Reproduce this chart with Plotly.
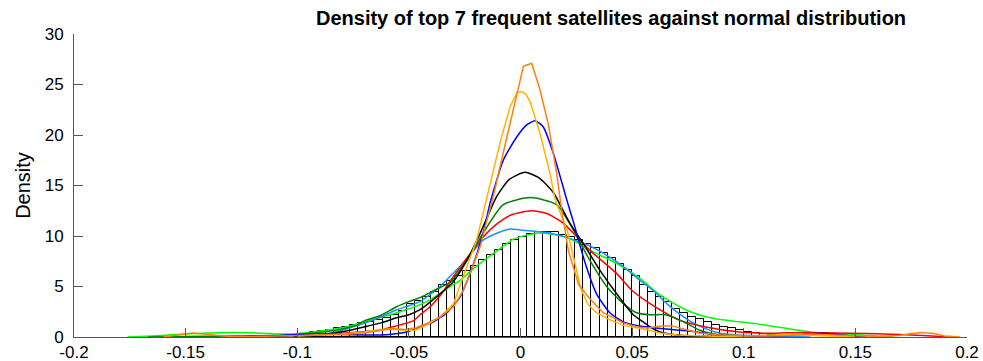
import plotly.graph_objects as go

# Histogram of pooled residuals (density scale)
bin_start = -0.1014
bin_width = 0.0036
hist_density = [
    0.2, 0.3, 0.5, 0.6, 0.7, 0.9, 1.0, 1.2, 1.4, 1.5, 1.7, 1.9, 2.2, 2.6,
    3.3, 3.6, 4.0, 4.5, 5.1, 5.5, 6.0, 6.5, 7.0, 7.6, 8.1,
    8.6, 9.2, 9.6, 9.9, 10.2, 10.4, 10.4, 10.4,
    10.1, 9.9, 9.6, 9.2, 8.8, 8.3, 7.8, 7.2, 6.6, 6.0,
    5.1, 4.5, 4.0, 3.5, 2.8, 2.4, 2.0, 1.8, 1.5, 1.2, 1.0, 0.9, 0.7, 0.5, 0.4, 0.3, 0.2,
]

# Kernel density estimates, one per satellite
sat1_x = [-0.16, -0.153, -0.147, -0.14, -0.13, -0.12, -0.11, -0.10, -0.09, -0.08, -0.07, -0.062,
          -0.057, -0.052, -0.047, -0.042, -0.036, -0.030, -0.0257, -0.022, -0.018, -0.015, -0.0123,
          -0.0085, -0.0047, 0.0013, 0.005, 0.0087, 0.0125, 0.0162, 0.0185, 0.0214, 0.026, 0.031,
          0.037, 0.046, 0.052, 0.057, 0.063, 0.068, 0.073, 0.08, 0.09, 0.10, 0.11, 0.12, 0.13, 0.14,
          0.15, 0.16, 0.17, 0.175, 0.18, 0.185, 0.19, 0.197]
sat1_y = [0.0, 0.2, 0.4, 0.25, 0.05, 0.05, 0.1, 0.2, 0.25, 0.25, 0.4, 0.7,
          0.85, 0.75, 0.9, 1.35, 2.0, 3.0, 4.6, 6.6, 9.0, 11.6, 13.8,
          17.5, 21.2, 26.8, 27.1, 24.5, 21.0, 16.2, 12.5, 8.6, 5.2, 3.8,
          2.4, 1.4, 1.0, 0.9, 1.1, 1.1, 0.8, 0.4, 0.2, 0.15, 0.1, 0.15, 0.3, 0.2,
          0.1, 0.05, 0.15, 0.35, 0.45, 0.35, 0.1, 0.0]

sat2_x = [-0.10, -0.09, -0.08, -0.07, -0.063, -0.058, -0.052, -0.047, -0.042, -0.036, -0.030,
          -0.024, -0.0196, -0.0155, -0.0092, -0.0047, -0.0015, 0.0005, 0.0025, 0.0043, 0.0087,
          0.0132, 0.0155, 0.021, 0.024, 0.027, 0.030, 0.034, 0.040, 0.047, 0.057, 0.0625, 0.07,
          0.08, 0.09, 0.10, 0.11, 0.12, 0.13, 0.14, 0.15]
sat2_y = [0.1, 0.2, 0.3, 0.5, 0.75, 0.8, 0.65, 0.7, 1.2, 2.0, 3.3,
          7.0, 9.6, 13.4, 19.2, 22.8, 24.2, 24.3, 24.0, 23.3, 20.2,
          16.2, 13.6, 10.5, 7.5, 4.8, 3.3, 2.4, 1.7, 1.1, 0.7, 0.4, 0.2,
          0.1, 0.05, 0.1, 0.2, 0.25, 0.15, 0.05, 0.0]

sat3_x = [-0.115, -0.11, -0.10, -0.09, -0.08, -0.07, -0.063, -0.057, -0.051, -0.045, -0.0405,
          -0.0375, -0.033, -0.027, -0.0226, -0.019, -0.016, -0.0137, -0.0077, -0.0017, 0.0028,
          0.0065, 0.0102, 0.0147, 0.0207, 0.0237, 0.029, 0.034, 0.040, 0.046, 0.0535, 0.067,
          0.079, 0.088, 0.10, 0.11, 0.12, 0.128, 0.134, 0.14, 0.148, 0.155]
sat3_y = [0.0, 0.1, 0.25, 0.3, 0.25, 0.2, 0.2, 0.3, 0.5, 1.0, 1.35,
          1.7, 2.4, 4.0, 6.3, 8.6, 10.9, 13.2, 17.5, 19.8, 21.0,
          21.4, 20.8, 18.2, 13.6, 11.4, 7.3, 4.3, 2.4, 1.5, 1.1, 0.76,
          0.5, 0.2, 0.1, 0.1, 0.15, 0.3, 0.37, 0.3, 0.1, 0.0]

sat4_x = [-0.13, -0.115, -0.10, -0.09, -0.085, -0.078, -0.070, -0.0625, -0.0555, -0.05, -0.045,
          -0.0375, -0.030, -0.024, -0.018, -0.0107, -0.005, 0.002, 0.008, 0.0147, 0.022, 0.028,
          0.0356, 0.043, 0.0505, 0.055, 0.058, 0.0625, 0.07, 0.08, 0.09, 0.10]
sat4_y = [0.0, 0.05, 0.15, 0.2, 0.35, 0.6, 1.0, 1.4, 1.9, 2.2, 2.7,
          4.0, 5.5, 7.6, 10.3, 13.9, 15.6, 16.3, 15.8, 14.3, 11.3, 9.3,
          6.6, 4.3, 2.2, 1.5, 1.0, 0.5, 0.2, 0.1, 0.05, 0.0]

sat5_x = [-0.167, -0.15, -0.13, -0.11, -0.10, -0.093, -0.085, -0.078, -0.073, -0.070, -0.063,
          -0.0555, -0.05, -0.045, -0.0405, -0.036, -0.0316, -0.024, -0.0167, -0.0077, 0.0043,
          0.0162, 0.0237, 0.031, 0.0386, 0.046, 0.052, 0.058, 0.065, 0.073, 0.080, 0.088, 0.095,
          0.105]
sat5_y = [0.0, 0.05, 0.1, 0.15, 0.25, 0.4, 0.6, 0.9, 1.2, 1.6, 2.1,
          3.0, 3.5, 3.9, 4.4, 4.9, 5.4, 7.6, 10.3, 13.1, 13.8,
          13.1, 10.6, 7.6, 5.0, 3.3, 2.4, 2.2, 2.2, 1.5, 0.7, 0.25, 0.1,
          0.0]

sat6_x = [-0.12, -0.11, -0.10, -0.09, -0.085, -0.075, -0.063, -0.054, -0.048, -0.045, -0.040,
          -0.0346, -0.0316, -0.024, -0.0167, -0.010, -0.004, 0.005, 0.012, 0.019, 0.031, 0.043,
          0.050, 0.058, 0.0625, 0.071, 0.083, 0.098, 0.112, 0.125, 0.14, 0.155, 0.17, 0.18, 0.192]
sat6_y = [0.0, 0.1, 0.2, 0.25, 0.3, 0.45, 0.7, 1.2, 1.6, 2.2, 3.1,
          4.5, 5.5, 7.8, 9.9, 11.3, 12.1, 12.5, 12.2, 11.3, 8.6, 6.3,
          4.6, 3.3, 2.7, 1.7, 1.0, 0.5, 0.37, 0.45, 0.4, 0.35, 0.25, 0.15, 0.0]

sat7_x = [-0.14, -0.12, -0.10, -0.092, -0.085, -0.078, -0.070, -0.0625, -0.0555, -0.05, -0.045,
          -0.036, -0.0316, -0.027, -0.0196, -0.0167, -0.0092, -0.0047, 0.0, 0.0132, 0.028, 0.037,
          0.046, 0.0535, 0.0595, 0.0655, 0.073, 0.080, 0.089, 0.098, 0.11, 0.12, 0.13]
sat7_y = [0.0, 0.05, 0.15, 0.25, 0.4, 0.8, 1.35, 2.0, 2.7, 3.1, 3.5,
          5.0, 6.0, 7.0, 8.9, 9.6, 10.4, 10.7, 10.6, 10.3, 9.3, 8.3,
          7.0, 5.6, 4.6, 3.3, 2.0, 1.1, 0.4, 0.2, 0.1, 0.05, 0.0]

# Normal distribution fitted to the pooled residuals
norm_x = [-0.176, -0.165, -0.15, -0.14, -0.129, -0.118, -0.108, -0.102, -0.093, -0.085, -0.078,
          -0.070, -0.0555, -0.045, -0.036, -0.0316, -0.027, -0.021, -0.0107, -0.003, 0.008,
          0.0207, 0.031, 0.043, 0.0535, 0.061, 0.068, 0.076, 0.086, 0.098, 0.106, 0.112, 0.13,
          0.152, 0.167]
norm_y = [0.0, 0.1, 0.3, 0.4, 0.45, 0.4, 0.3, 0.3, 0.5, 0.75, 1.0,
          1.5, 2.4, 3.2, 4.3, 5.0, 5.6, 6.8, 8.5, 9.7, 10.3,
          9.9, 8.6, 7.3, 5.8, 4.4, 3.4, 2.5, 1.85, 1.5, 1.3, 1.1, 0.5,
          0.2, 0.0]

# (x, y, colour, line shape)
curves = [
    (norm_x, norm_y, "#00FF00", "spline"),
    (sat7_x, sat7_y, "#1E90FF", "spline"),
    (sat6_x, sat6_y, "#FF0000", "spline"),
    (sat5_x, sat5_y, "#008000", "spline"),
    (sat4_x, sat4_y, "#000000", "spline"),
    (sat3_x, sat3_y, "#0000FF", "spline"),
    (sat2_x, sat2_y, "#FFB400", "linear"),
    (sat1_x, sat1_y, "#FF7F0E", "linear"),
]

x_ticks = [-0.2, -0.15, -0.1, -0.05, 0, 0.05, 0.1, 0.15, 0.2]
x_tick_text = ["-0.2", "-0.15", "-0.1", "-0.05", "0", "0.05", "0.1", "0.15", "0.2"]
y_ticks = [0, 5, 10, 15, 20, 25, 30]

bin_centers = [bin_start + bin_width * (i + 0.5) for i in range(len(hist_density))]

fig = go.Figure()
fig.add_trace(go.Bar(
    x=bin_centers, y=hist_density, width=bin_width,
    marker=dict(color="white", line=dict(color="black", width=1)),
    showlegend=False, hoverinfo="skip",
))
for cx, cy, col, shape in curves:
    line = dict(color=col, width=1.5, shape=shape)
    if shape == "spline":
        line["smoothing"] = 0.6
    fig.add_trace(go.Scatter(x=cx, y=cy, mode="lines", line=line, showlegend=False))

font_family = "Liberation Sans, Arial, sans-serif"
axis_font = dict(family=font_family, size=17, color="black")
fig.update_layout(
    width=983, height=361,
    margin=dict(l=74, r=16, t=34, b=24, autoexpand=False),
    paper_bgcolor="white", plot_bgcolor="white",
    bargap=0,
    font=axis_font,
    title=dict(
        text="<b>Density of top 7 frequent satellites against normal distribution</b>",
        x=0.6216, xanchor="center", y=0.95, yanchor="middle",
        font=dict(family=font_family, size=20, color="black"),
    ),
)
fig.update_xaxes(
    range=[-0.2, 0.2], tickvals=x_ticks, ticktext=x_tick_text, automargin=False,
    showgrid=False, zeroline=False, showline=True, linecolor="#555555", linewidth=1,
    ticks="inside", ticklen=9, tickcolor="#555555", tickfont=axis_font,
    ticklabelstandoff=0,
)
fig.update_yaxes(
    range=[0, 30], tickvals=y_ticks, automargin=False,
    showgrid=False, zeroline=False, showline=True, linecolor="#555555", linewidth=1,
    ticks="inside", ticklen=9, tickcolor="#555555", tickfont=axis_font,
    ticklabelstandoff=6,
    title=dict(text="Density", font=dict(family=font_family, size=20, color="black"),
               standoff=8),
)

fig.write_html("out.html")
